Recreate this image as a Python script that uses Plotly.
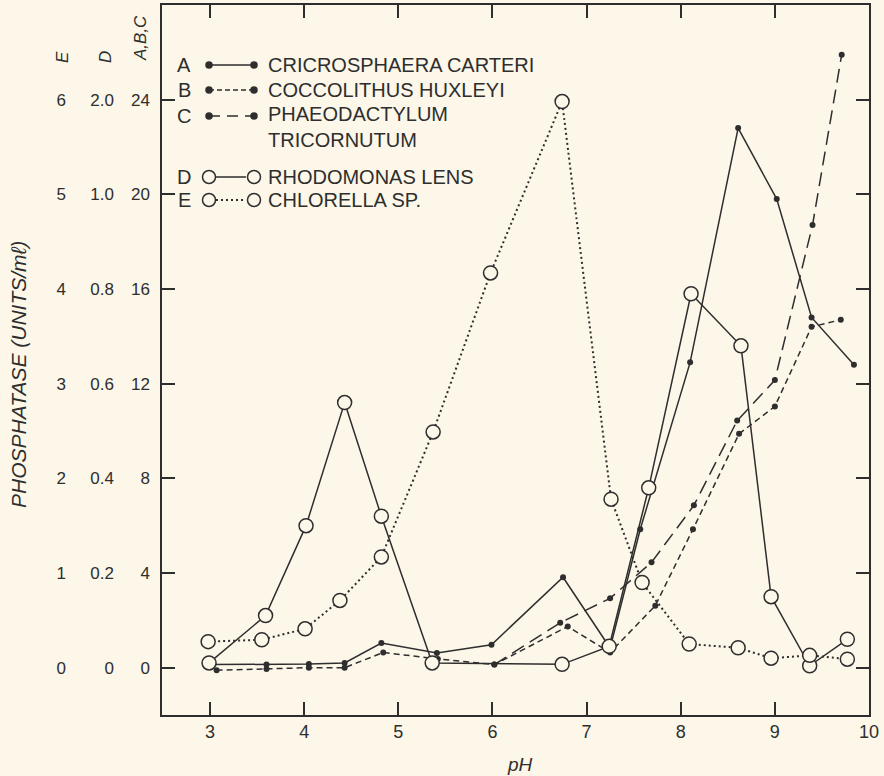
import plotly.graph_objects as go

BG = "#FCF7E9"
INK = "#2E2E2E"
FONT = "Liberation Sans"

# ---- data (pH, activity) ----
# A, B, C read on the "A,B,C" scale
ph_a = [3.0, 3.6, 4.05, 4.43, 4.82, 5.41, 5.99, 6.75, 7.25, 7.57, 8.10, 8.61, 9.02, 9.39, 9.84]
val_a = [0.13, 0.13, 0.15, 0.2, 1.04, 0.62, 0.97, 3.82, 0.83, 5.85, 12.9, 22.8, 19.8, 14.8, 12.8]
ph_b = [3.07, 3.6, 4.05, 4.43, 4.84, 5.42, 6.02, 6.80, 7.25, 7.73, 8.13, 8.62, 9.0, 9.39, 9.70]
val_b = [-0.11, -0.06, 0.0, 0.0, 0.64, 0.37, 0.13, 1.74, 0.64, 2.62, 5.85, 9.88, 11.04, 14.4, 14.7]
ph_c = [6.02, 6.72, 7.25, 7.69, 8.14, 8.60, 9.0, 9.40, 9.71]
val_c = [0.13, 1.9, 2.93, 4.45, 6.86, 10.44, 12.15, 18.7, 25.9]
# D on the "D" scale
ph_d = [2.99, 3.59, 4.02, 4.43, 4.82, 5.36, 6.74, 7.24, 7.66, 8.11, 8.64, 8.96, 9.37, 9.77]
val_d = [0.01, 0.11, 0.30, 0.56, 0.32, 0.01, 0.007, 0.045, 0.38, 0.79, 0.68, 0.15, 0.004, 0.06]
# E on the "E" scale
ph_e = [2.98, 3.55, 4.01, 4.38, 4.82, 5.37, 5.98, 6.74, 7.26, 7.59, 8.09, 8.61, 8.96, 9.37, 9.77]
val_e = [0.275, 0.295, 0.41, 0.71, 1.17, 2.49, 4.17, 5.98, 1.78, 0.90, 0.25, 0.21, 0.10, 0.13, 0.09]

# tick labels
x_ticks = [3, 4, 5, 6, 7, 8, 9, 10]
abc_tickvals = [0, 4, 8, 12, 16, 20, 24]
abc_ticktext = ["0", "4", "8", "12", "16", "20", "24"]
d_tickvals = [0, 0.2, 0.4, 0.6, 0.8, 1.0, 1.2]
d_ticktext = ["0", "0.2", "0.4", "0.6", "0.8", "1.0", "2.0"]
e_tickvals = [0, 1, 2, 3, 4, 5, 6]
e_ticktext = ["0", "1", "2", "3", "4", "5", "6"]

legend_letters = ["A", "B", "C", "D", "E"]
legend_names = ["CRICROSPHAERA CARTERI", "COCCOLITHUS HUXLEYI", "PHAEODACTYLUM<br>TRICORNUTUM",
                "RHODOMONAS LENS", "CHLORELLA SP."]

W, H = 884, 776
ML, MR, MT, MB = 0, 15, 5, 61
PW = W - ML - MR
PH = H - MT - MB


def pxx(x):
    return (x - ML) / PW


def pxy(y):
    return (H - MB - y) / PH


fig = go.Figure()

dot = dict(size=6, color=INK)
ring = dict(size=14, color=BG, line=dict(color=INK, width=1.5))

fig.add_trace(go.Scatter(x=ph_a, y=val_a, mode="lines+markers", yaxis="y",
                         line=dict(color=INK, width=1.5), marker=dot, showlegend=False))
fig.add_trace(go.Scatter(x=ph_b, y=val_b, mode="lines+markers", yaxis="y",
                         line=dict(color=INK, width=1.5, dash="6px,4px"), marker=dot, showlegend=False))
fig.add_trace(go.Scatter(x=ph_c, y=val_c, mode="lines+markers", yaxis="y",
                         line=dict(color=INK, width=1.5, dash="14px,7px"), marker=dot, showlegend=False))
fig.add_trace(go.Scatter(x=ph_e, y=val_e, mode="lines+markers", yaxis="y3",
                         line=dict(color=INK, width=2, dash="2px,3px"), marker=ring, showlegend=False))
fig.add_trace(go.Scatter(x=ph_d, y=val_d, mode="lines+markers", yaxis="y2",
                         line=dict(color=INK, width=1.5), marker=ring, showlegend=False))

tickfont = dict(family=FONT, size=17, color=INK)

fig.update_layout(
    width=W, height=H,
    margin=dict(l=ML, r=MR, t=MT, b=MB),
    paper_bgcolor=BG, plot_bgcolor=BG,
    xaxis=dict(domain=[162 / PW, 1], range=[2.49, 10], tickvals=x_ticks,
               ticks="inside", ticklen=13, tickwidth=1.5, tickcolor=INK,
               showline=True, linecolor=INK, linewidth=1.5, mirror="ticks",
               showgrid=False, zeroline=False,
               tickfont=dict(family=FONT, size=18, color=INK), ticklabelstandoff=0),
    yaxis=dict(range=[-2, 28], tickvals=abc_tickvals, ticktext=abc_ticktext,
               ticks="inside", ticklen=13, tickwidth=1.5, tickcolor=INK,
               showline=True, linecolor=INK, linewidth=1.5, mirror="ticks",
               showgrid=False, zeroline=False, tickfont=tickfont, ticklabelstandoff=7),
    yaxis2=dict(range=[-0.1, 1.4], overlaying="y", anchor="free", position=114 / PW,
                tickvals=d_tickvals, ticktext=d_ticktext, ticks="", showline=False,
                showgrid=False, zeroline=False, tickfont=tickfont),
    yaxis3=dict(range=[-0.5, 7], overlaying="y", anchor="free", position=66 / PW,
                tickvals=e_tickvals, ticktext=e_ticktext, ticks="", showline=False,
                showgrid=False, zeroline=False, tickfont=tickfont),
    showlegend=False,
)

ann = []
shapes = []


def note(x, y, text, size, italic=False, angle=0, xanchor="center"):
    ann.append(dict(x=pxx(x), y=pxy(y), xref="paper", yref="paper", text=text, textangle=angle,
                    xanchor=xanchor, yanchor="middle", align="left", showarrow=False,
                    font=dict(family=FONT, size=size, color=INK, style="italic" if italic else "normal")))


# axis titles
note(18, 375, "PHOSPHATASE (UNITS/mℓ)", 21, italic=True, angle=-90)
note(520, 765, "pH", 19, italic=True)
for txt, x, y in [("E", 62, 57), ("D", 105, 57), ("A,B,C", 140, 38)]:
    note(x, y, txt, 17, italic=True, angle=-90)

# hand-drawn key
rows_y = [65, 90, 116, 177, 200]
dashes = ["solid", "5px,3px", "11px,7px", "solid", "2px,3px"]
for i, (letter, name) in enumerate(zip(legend_letters, legend_names)):
    y = rows_y[i]
    note(184, y, letter, 20)
    note(266, y + (11 if i == 2 else 0), name, 20, xanchor="left")
    open_ring = i >= 3
    x0, x1 = (216, 246) if open_ring else (209, 254)
    shapes.append(dict(type="line", xref="paper", yref="paper", x0=pxx(x0), x1=pxx(x1),
                       y0=pxy(y), y1=pxy(y), line=dict(color=INK, width=2 if i == 4 else 1.5, dash=dashes[i])))
    r = 6.5 if open_ring else 3
    for cx in (209, 254):
        shapes.append(dict(type="circle", xref="paper", yref="paper", xsizemode="pixel", ysizemode="pixel",
                           xanchor=pxx(cx), yanchor=pxy(y), x0=-r, x1=r, y0=-r, y1=r,
                           fillcolor=BG if open_ring else INK, line=dict(color=INK, width=1.5)))

fig.update_layout(annotations=ann, shapes=shapes)
fig.write_html("out.html", config={"displayModeBar": False},
               post_script="document.body.style.margin='0';")
